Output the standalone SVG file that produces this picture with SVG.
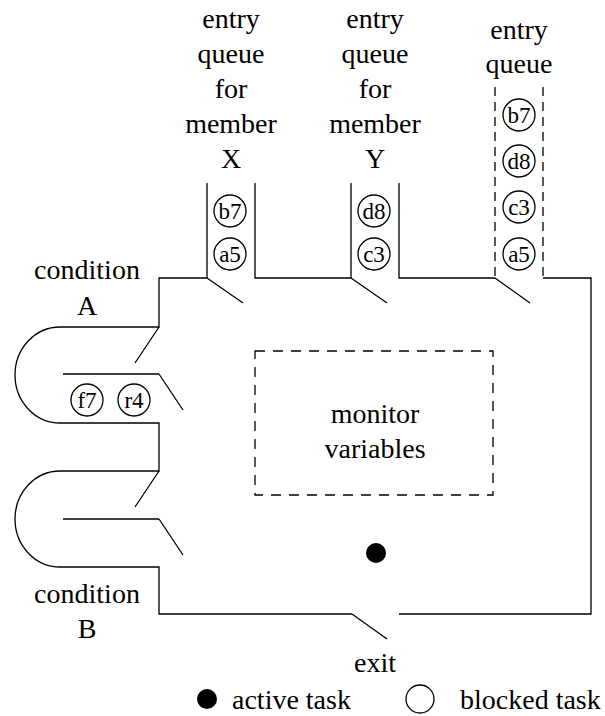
<svg xmlns="http://www.w3.org/2000/svg" width="605" height="716" viewBox="0 0 605 716">
<style>
text{font-family:'Liberation Serif','Times New Roman',Times,'DejaVu Serif',serif;fill:#000}
.t{font-size:28px;text-anchor:middle}
.tl{font-size:28px}
.c{font-size:23px;text-anchor:middle}
.w{fill:none;stroke:#000;stroke-width:1.3}
.d{fill:none;stroke:#000;stroke-width:1.3;stroke-dasharray:9 6}
.db{fill:none;stroke:#000;stroke-width:1.3;stroke-dasharray:10 8}
.bc{fill:#fff;stroke:#000;stroke-width:1.3}
</style>
<defs>
<circle id="task" r="16" class="bc"/>
</defs>
<rect width="605" height="716" fill="#fff"/>
<g id="walls">
<path class="w" d="M207,183 V278 H159 V327 H60 A45,48 0 0 0 60,423 H159 V471 H60 A45,48 0 0 0 60,567 H159 V614 H352"/>
<path class="w" d="M255,183 V278 H351 V183"/>
<path class="w" d="M399,183 V278 H495"/>
<path class="w" d="M543,278 H591 V614 H399"/>
<path class="d" d="M495,87 V278 M543,87 V278"/>
<path class="w" d="M63,374 H159 M63,519 H159"/>
<path class="w" d="M207,278 L243,303 M351,278 L387,303 M495,278 L530,303 M352,614 L387,639 M159,327 L135,363 M159,374 L183,410 M159,471 L135,507 M159,519 L183,555"/>
</g>
<g id="queueX">
<text class="t" x="231" y="28">entry</text>
<text class="t" x="231" y="63">queue</text>
<text class="t" x="231" y="98">for</text>
<text class="t" x="231" y="133">member</text>
<text class="t" x="231" y="168">X</text>
<use href="#task" x="230" y="211"/><text class="c" x="230" y="219">b7</text>
<use href="#task" x="230" y="254"/><text class="c" x="230" y="262">a5</text>
</g>
<g id="queueY">
<text class="t" x="375" y="28">entry</text>
<text class="t" x="375" y="63">queue</text>
<text class="t" x="375" y="98">for</text>
<text class="t" x="375" y="133">member</text>
<text class="t" x="375" y="168">Y</text>
<use href="#task" x="374" y="211"/><text class="c" x="374" y="219">d8</text>
<use href="#task" x="374" y="254"/><text class="c" x="374" y="262">c3</text>
</g>
<g id="queueMain">
<text class="t" x="519" y="39">entry</text>
<text class="t" x="519" y="73">queue</text>
<use href="#task" x="519" y="115"/><text class="c" x="519" y="123">b7</text>
<use href="#task" x="519" y="161"/><text class="c" x="519" y="169">d8</text>
<use href="#task" x="519" y="207"/><text class="c" x="519" y="215">c3</text>
<use href="#task" x="519" y="254"/><text class="c" x="519" y="262">a5</text>
</g>
<g id="conditionA">
<text class="t" x="87" y="279">condition</text>
<text class="t" x="87" y="315">A</text>
<use href="#task" x="87" y="400"/><text class="c" x="87" y="408">f7</text>
<use href="#task" x="134" y="400"/><text class="c" x="134" y="408">r4</text>
</g>
<g id="conditionB">
<text class="t" x="87" y="603">condition</text>
<text class="t" x="87" y="638">B</text>
</g>
<g id="monitor">
<rect class="db" x="255" y="351" width="238" height="144"/>
<text class="t" x="375" y="423">monitor</text>
<text class="t" x="375" y="458">variables</text>
</g>
<g id="activeTask">
<circle cx="376" cy="553" r="10" fill="#000"/>
</g>
<g id="exit">
<text class="t" x="375" y="672">exit</text>
</g>
<g id="legend">
<circle cx="207" cy="699" r="10" fill="#000"/>
<text class="tl" x="232" y="709">active task</text>
<circle cx="420" cy="699" r="14" class="bc"/>
<text class="tl" x="460" y="709">blocked task</text>
</g>
</svg>
